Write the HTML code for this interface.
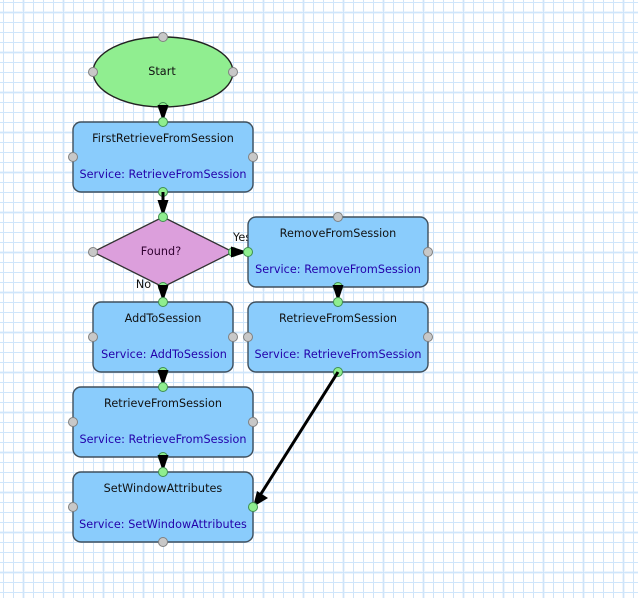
<!DOCTYPE html>
<html><head><meta charset="utf-8"><style>
html,body{margin:0;padding:0;background:#fff;width:638px;height:598px;overflow:hidden}
svg{display:block}
text{font-family:"DejaVu Sans",sans-serif;font-size:11.2px;text-anchor:middle;letter-spacing:.05px}
.t{fill:#111}.s{fill:#2200aa}
.n{fill:#8accfc;stroke:#3f4f5c;stroke-width:1.4}
.g{fill:#c8c8c8;stroke:#808080;stroke-width:1}
.p{fill:#8fee8f;stroke:#3f8f4f;stroke-width:1}
.c{stroke:#000;stroke-width:3;fill:none}
</style></head><body>
<svg width="638" height="598" viewBox="0 0 638 598" xmlns="http://www.w3.org/2000/svg">
<defs>
<pattern id="gv" width="10" height="10" patternUnits="userSpaceOnUse"><rect x="3" y="0" width="1" height="10" fill="#cfe3f7"/><rect x="0" y="2" width="10" height="1" fill="#cfe6fc"/></pattern>
<pattern id="gb" width="40" height="40" patternUnits="userSpaceOnUse"><rect x="22" y="0" width="3" height="40" fill="#edf5fd"/><rect x="0" y="11" width="40" height="3" fill="#edf5fd"/></pattern>
</defs>
<rect width="638" height="598" fill="#fff"/>
<rect width="638" height="598" fill="url(#gb)"/>
<rect width="638" height="598" fill="url(#gv)"/>

<ellipse class="n" style="fill:#90ee90;stroke:#222" cx="163" cy="72" rx="70" ry="35"/>
<text class="t" x="162" y="75">Start</text>

<rect class="n" x="73" y="122" width="180" height="70" rx="8"/>
<text class="t" x="163" y="142">FirstRetrieveFromSession</text>
<text class="s" x="163" y="178">Service: RetrieveFromSession</text>

<polygon points="163,217 233,252 163,287 93,252" style="fill:#dc9fdc;stroke:#333;stroke-width:1.3"/>
<text class="t" x="161" y="255" style="fill:#300030">Found?</text>

<text class="t" x="233" y="241" style="text-anchor:start">Yes</text>
<text class="t" x="143.500" y="288">No</text>

<rect class="n" x="248" y="217" width="180" height="70" rx="8"/>
<text class="t" x="338" y="237">RemoveFromSession</text>
<text class="s" x="338" y="273">Service: RemoveFromSession</text>

<rect class="n" x="248" y="302" width="180" height="70" rx="8"/>
<text class="t" x="338" y="322">RetrieveFromSession</text>
<text class="s" x="338" y="358">Service: RetrieveFromSession</text>

<rect class="n" x="93" y="302" width="140" height="70" rx="8"/>
<text class="t" x="163" y="322">AddToSession</text>
<text class="s" x="164" y="358">Service: AddToSession</text>

<rect class="n" x="73" y="387" width="180" height="70" rx="8"/>
<text class="t" x="163" y="407">RetrieveFromSession</text>
<text class="s" x="163" y="443">Service: RetrieveFromSession</text>

<rect class="n" x="73" y="472" width="180" height="70" rx="8"/>
<text class="t" x="163" y="492">SetWindowAttributes</text>
<text class="s" x="163" y="528">Service: SetWindowAttributes</text>

<circle class="g" cx="163" cy="37" r="4.5"/><circle class="g" cx="93" cy="72" r="4.5"/><circle class="g" cx="233" cy="72" r="4.5"/>
<circle class="g" cx="73" cy="157" r="4.5"/><circle class="g" cx="253" cy="157" r="4.5"/>
<circle class="g" cx="93" cy="252" r="4.5"/>
<circle class="g" cx="338" cy="217" r="4.5"/><circle class="g" cx="428" cy="252" r="4.5"/>
<circle class="g" cx="248" cy="337" r="4.5"/><circle class="g" cx="428" cy="337" r="4.5"/>
<circle class="g" cx="93" cy="337" r="4.5"/><circle class="g" cx="233" cy="337" r="4.5"/>
<circle class="g" cx="73" cy="422" r="4.5"/><circle class="g" cx="253" cy="422" r="4.5"/>
<circle class="g" cx="73" cy="507" r="4.5"/><circle class="g" cx="163" cy="542" r="4.5"/>
<circle class="p" cx="163" cy="107" r="4.5"/>
<circle class="p" cx="163" cy="192" r="4.5"/>
<circle class="p" cx="233" cy="252" r="4.5"/>
<circle class="p" cx="163" cy="287" r="4.5"/>
<circle class="p" cx="338" cy="287" r="4.5"/>
<circle class="p" cx="163" cy="372" r="4.5"/>
<circle class="p" cx="163" cy="457" r="4.5"/>
<circle class="p" cx="338" cy="372" r="4.5"/>

<line class="c" x1="163" y1="192" x2="163" y2="205"/>
<line class="c" x1="338" y1="372" x2="259" y2="497"/>
<polygon points="157.500,200 168.500,200 163,217"/>
<polygon points="157.500,105 168.500,105 163,122"/>
<polygon points="157.500,285 168.500,285 163,302"/>
<polygon points="332.500,285 343.500,285 338,302"/>
<polygon points="157.500,370 168.500,370 163,387"/>
<polygon points="157.500,455 168.500,455 163,472"/>
<polygon points="231,246.500 231,257.500 248,252"/>
<polygon points="253,507 257,491 268,498"/>

<circle class="p" cx="163" cy="122" r="4.5"/>
<circle class="p" cx="163" cy="217" r="4.5"/>
<circle class="p" cx="248" cy="252" r="4.5"/>
<circle class="p" cx="163" cy="302" r="4.5"/>
<circle class="p" cx="338" cy="302" r="4.5"/>
<circle class="p" cx="163" cy="387" r="4.5"/>
<circle class="p" cx="163" cy="472" r="4.5"/>
<circle class="p" cx="253" cy="507" r="4.5"/>
</svg>
</body></html>
